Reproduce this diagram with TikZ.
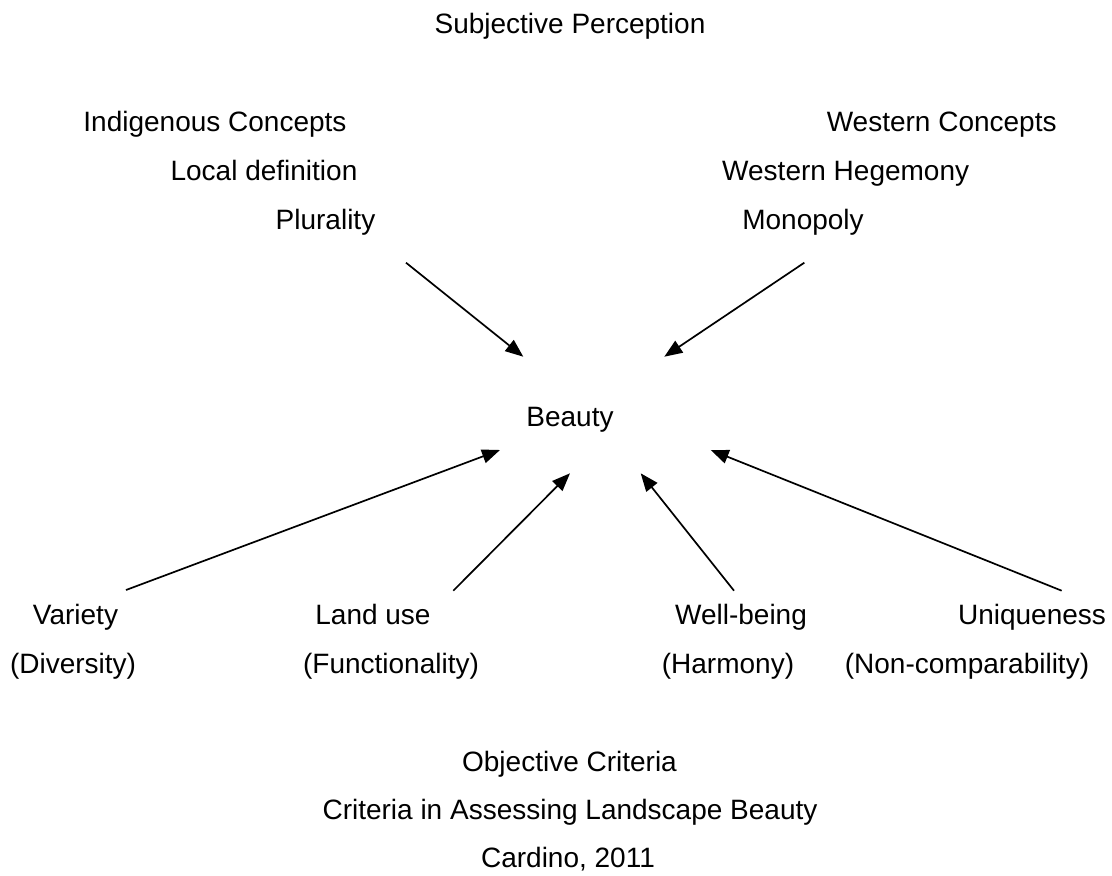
\documentclass[tikz,border=0pt]{standalone}
\usepackage{fontspec}
\setmainfont{Liberation Sans}
\usetikzlibrary{arrows.meta}
\begin{document}
\begin{tikzpicture}[x=1pt,y=-1pt,
  lbl/.style={anchor=base,inner sep=0pt,font=\fontsize{28}{34}\selectfont},
  link/.style={line width=1.7pt,-{Triangle[length=18pt,width=14pt]}}]
\useasboundingbox (0,0) rectangle (1112,876);

% top heading
\node[lbl] (subj) at (570,33) {Subjective Perception};

% left column of concepts
\node[lbl] (indig) at (215,131) {Indigenous Concepts};
\node[lbl] (local) at (264,180) {Local definition};
\node[lbl] (plur)  at (325.5,229) {Plurality};

% right column of concepts
\node[lbl] (west)  at (941.7,131) {Western Concepts};
\node[lbl] (hegem) at (845.7,180) {Western Hegemony};
\node[lbl] (mono)  at (803,229) {Monopoly};

% centre
\node[lbl] (beauty) at (570,426) {Beauty};

% criteria row
\node[lbl] (var)   at (75.5,624) {Variety};
\node[lbl] (div)   at (73,673) {(Diversity)};
\node[lbl] (land)  at (373,624) {Land use};
\node[lbl] (func)  at (391,673) {(Functionality)};
\node[lbl] (well)  at (741,624) {Well-being};
\node[lbl] (harm)  at (728,673) {(Harmony)};
\node[lbl] (uniq)  at (1032,624) {Uniqueness};
\node[lbl] (nonc)  at (967,673) {(Non-comparability)};

% footer
\node[lbl] (obj)  at (569.5,771) {Objective Criteria};
\node[lbl] (crit) at (570,819) {Criteria in Assessing Landscape Beauty};
\node[lbl] (card) at (568,867) {Cardino, 2011};

% arrow end points
\coordinate (s1) at (406,262.7);   \coordinate (t1) at (523.3,356.7);
\coordinate (s2) at (804.3,262.7); \coordinate (t2) at (664.3,356.7);
\coordinate (s3) at (126,590);     \coordinate (t3) at (500,450);
\coordinate (s4) at (453.3,590.7); \coordinate (t4) at (570,473.3);
\coordinate (s5) at (734,590.7);   \coordinate (t5) at (640.7,473.3);
\coordinate (s6) at (1061.7,590.7);\coordinate (t6) at (710.7,450);

\draw[link] (s1) -- (t1);
\draw[link] (s2) -- (t2);
\draw[link] (s3) -- (t3);
\draw[link] (s4) -- (t4);
\draw[link] (s5) -- (t5);
\draw[link] (s6) -- (t6);
\end{tikzpicture}
\end{document}
